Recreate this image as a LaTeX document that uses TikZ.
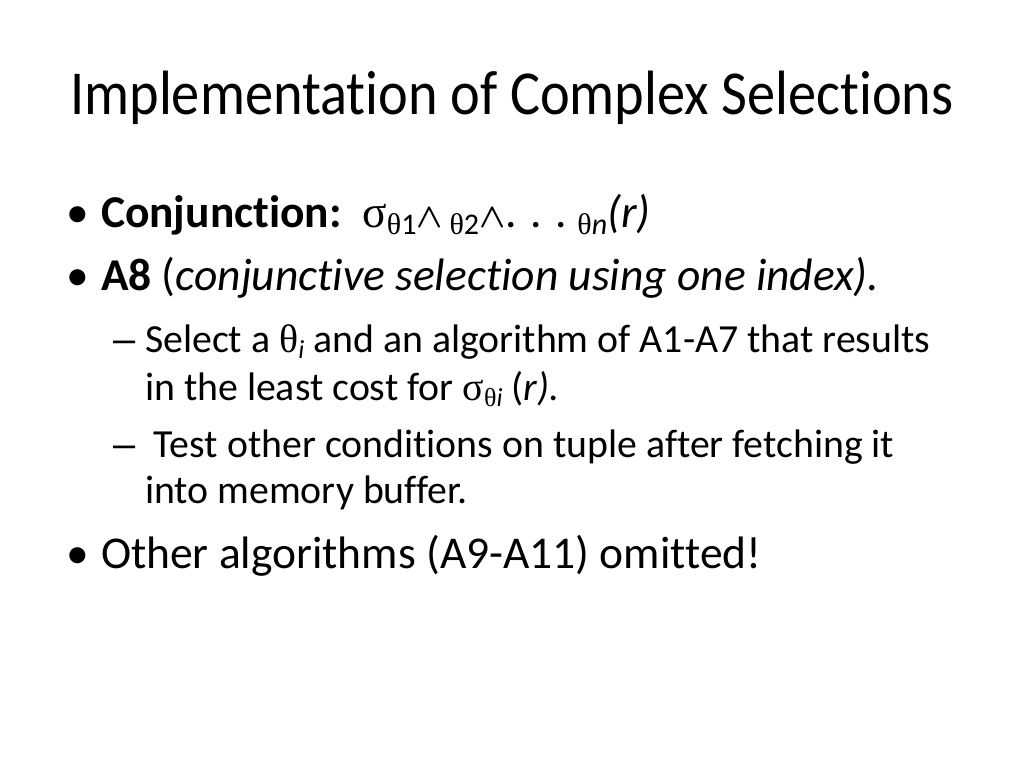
\documentclass[tikz,border=0pt]{standalone}
\usepackage{fontspec}
\setmainfont{Carlito}[Ligatures={TeX,NoCommon}]
\newfontfamily\symf{Liberation Serif}
\newfontfamily\dashf{Liberation Sans}
\newcommand\bodyfont{\fontsize{45.5pt}{54pt}\selectfont}
\newcommand\subfont{\fontsize{39.8pt}{48pt}\selectfont}
\newcommand\titlefont{\fontsize{62.6pt}{70pt}\selectfont}
\newcommand\bsub[1]{\raisebox{-7pt}{\fontsize{30pt}{30pt}\selectfont #1}}
\newcommand\ssub[1]{\raisebox{-6pt}{\fontsize{26pt}{26pt}\selectfont #1}}
\newcommand\wdg{\resizebox{!}{19pt}{\boldmath$\wedge$}}
\tikzset{
  txt/.style={anchor=base west, inner sep=0pt, outer sep=0pt, text=black},
  bodytxt/.style={txt, font=\bodyfont},
  subtxt/.style={txt, font=\subfont},
}
\begin{document}
\begin{tikzpicture}[x=1pt,y=-1pt]
\useasboundingbox[fill=white] (0,0) rectangle (1024,768);
\node[txt, anchor=base, font=\titlefont] (title) at (512,114) {\scalebox{0.9}[1]{Implementation of Complex Selections}};
% bullets
\node[bodytxt] (b1) at (66,227) {•};
\node[bodytxt] (t1) at (101,227) {\textbf{Conjunction:}\ \ {\symf σ}\bsub{{\symf θ}1}\wdg\bsub{\ {\symf θ}2}\wdg. . .\ \bsub{{\symf θ}\textit{n}}\textit{(r)}};
\node[bodytxt] (b2) at (66,290) {•};
\node[bodytxt] (t2) at (101,290) {\textbf{A8} (\textit{conjunctive selection using one index).}};
\node[subtxt] (d1) at (113,352) {\dashf –};
\node[subtxt] (s1a) at (145,352) {Select a {\symf θ}\ssub{\textit{i}} and an algorithm of A1-A7 that results};
\node[subtxt] (s1b) at (145,400) {in the least cost for {\symf σ}\ssub{{\symf θ}\textit{i}} (\textit{r).}};
\node[subtxt] (d2) at (113,457) {\dashf –};
\node[subtxt] (s2a) at (145,457) {\ Test other conditions on tuple after fetching it};
\node[subtxt] (s2b) at (145,503) {into memory buffer.};
\node[bodytxt] (b3) at (66,568) {•};
\node[bodytxt] (t3) at (101,568) {Other algorithms (A9-A11) omitted!};
\end{tikzpicture}
\end{document}
